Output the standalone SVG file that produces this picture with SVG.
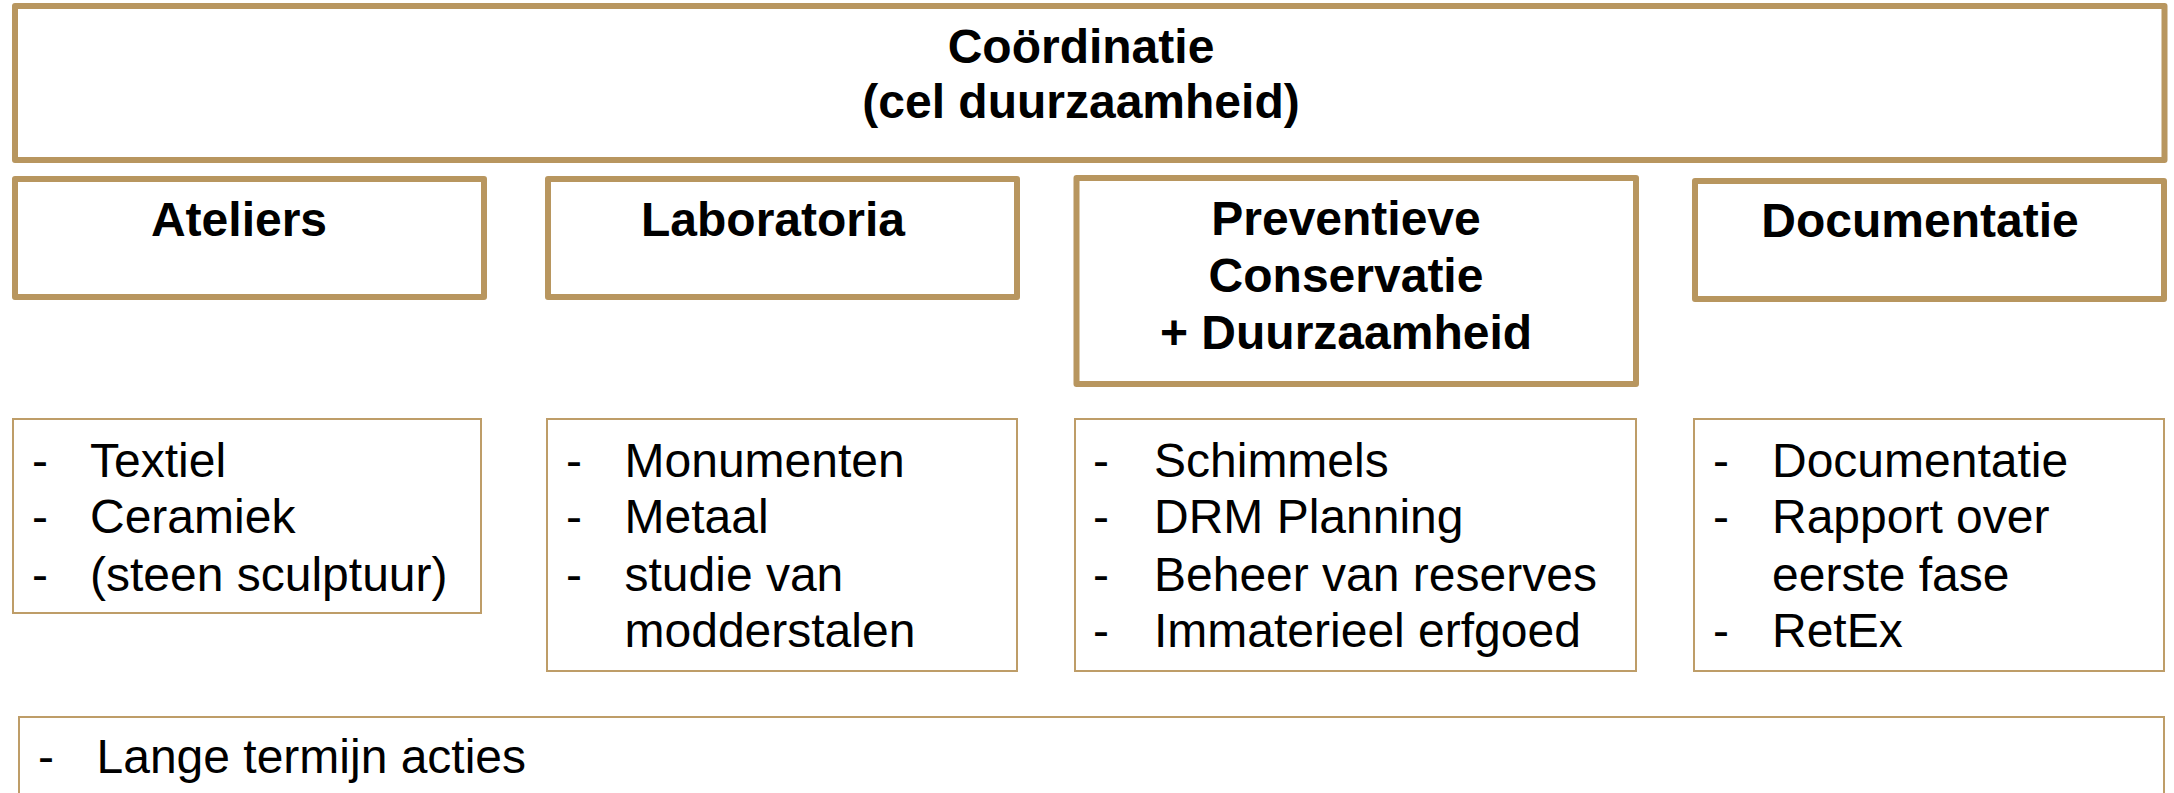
<svg xmlns="http://www.w3.org/2000/svg" width="2174" height="793" viewBox="0 0 2174 793">
<style>
.thick{fill:#fff;stroke:#B8965F;stroke-width:6;stroke-linejoin:round}
.thin{fill:#fff;stroke:#BE9D68;stroke-width:2}
.title{font-family:"Liberation Sans",Arial,sans-serif;font-weight:bold;font-size:48px;fill:#000;text-anchor:middle}
.item{font-family:"Liberation Sans",Arial,sans-serif;font-size:48px;fill:#000}
</style>
<rect width="2174" height="793" fill="#fff"/>
<g id="connectors"/>
<g id="coordinatie">
<rect class="thick" x="15" y="6" width="2149.5" height="154"/>
<text class="title" x="1081" y="63">Coördinatie</text>
<text class="title" x="1081" y="118">(cel duurzaamheid)</text>
</g>
<g id="ateliers">
<rect class="thick" x="15" y="179" width="469" height="118"/>
<text class="title" x="239" y="236">Ateliers</text>
</g>
<g id="laboratoria">
<rect class="thick" x="548" y="179" width="469" height="118"/>
<text class="title" x="773" y="236">Laboratoria</text>
</g>
<g id="preventieve">
<rect class="thick" x="1076.5" y="178" width="559.5" height="206"/>
<text class="title" x="1346" y="235">Preventieve</text>
<text class="title" x="1346" y="292">Conservatie</text>
<text class="title" x="1346" y="349">+ Duurzaamheid</text>
</g>
<g id="documentatie">
<rect class="thick" x="1695" y="181" width="469" height="118"/>
<text class="title" x="1920" y="237">Documentatie</text>
</g>
<g id="ateliers-list">
<rect class="thin" x="13" y="419" width="468" height="194"/>
<text class="item" x="32" y="477">-</text><text class="item" x="90" y="477">Textiel</text>
<text class="item" x="32" y="533">-</text><text class="item" x="90" y="533">Ceramiek</text>
<text class="item" x="32" y="591">-</text><text class="item" x="90" y="591">(steen sculptuur)</text>
</g>
<g id="laboratoria-list">
<rect class="thin" x="547" y="419" width="470" height="252"/>
<text class="item" x="566" y="477">-</text><text class="item" x="624.5" y="477">Monumenten</text>
<text class="item" x="566" y="533">-</text><text class="item" x="624.5" y="533">Metaal</text>
<text class="item" x="566" y="591">-</text><text class="item" x="624.5" y="591">studie van</text>
<text class="item" x="624.5" y="647">modderstalen</text>
</g>
<g id="preventieve-list">
<rect class="thin" x="1075" y="419" width="561" height="252"/>
<text class="item" x="1093" y="477">-</text><text class="item" x="1154" y="477">Schimmels</text>
<text class="item" x="1093" y="533">-</text><text class="item" x="1154" y="533">DRM Planning</text>
<text class="item" x="1093" y="591">-</text><text class="item" x="1154" y="591">Beheer van reserves</text>
<text class="item" x="1093" y="647">-</text><text class="item" x="1154" y="647">Immaterieel erfgoed</text>
</g>
<g id="documentatie-list">
<rect class="thin" x="1694" y="419" width="470" height="252"/>
<text class="item" x="1713" y="477">-</text><text class="item" x="1772" y="477">Documentatie</text>
<text class="item" x="1713" y="533">-</text><text class="item" x="1772" y="533">Rapport over</text>
<text class="item" x="1772" y="591">eerste fase</text>
<text class="item" x="1713" y="647">-</text><text class="item" x="1772" y="647">RetEx</text>
</g>
<g id="lange-termijn">
<rect class="thin" x="19" y="717" width="2145" height="100"/>
<text class="item" x="38" y="773">-</text><text class="item" x="96.5" y="773">Lange termijn acties</text>
</g>
</svg>
